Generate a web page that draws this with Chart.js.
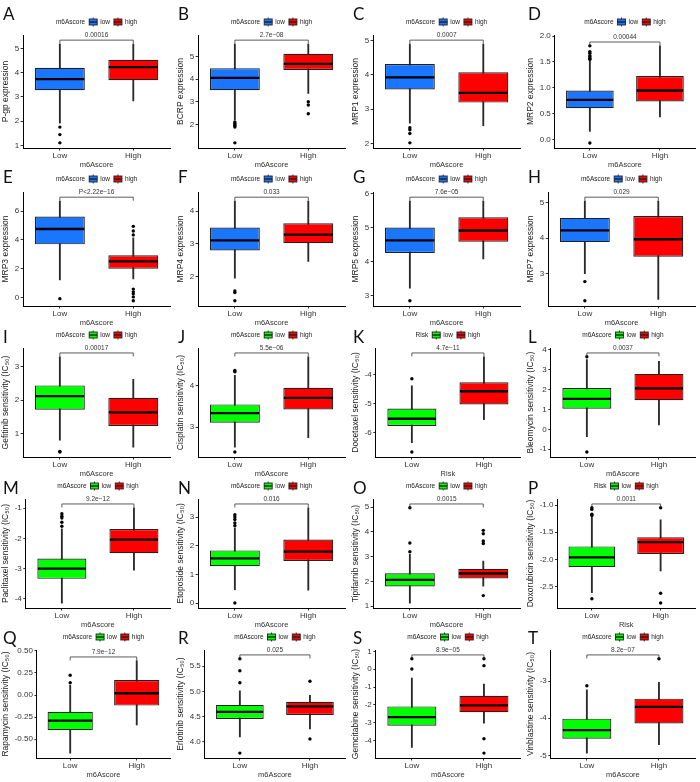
<!DOCTYPE html>
<html>
<head>
<meta charset="utf-8">
<script src="https://cdn.jsdelivr.net/npm/chart.js@4.4.0/dist/chart.umd.min.js"></script>
<style>
  body { margin: 0; background: #fff; }
  #fig { position: relative; width: 700px; height: 782px; overflow: hidden; background: #fff; }
  .panel { position: absolute; }
  .letter { position: absolute; font-family: Lato, "DejaVu Sans", sans-serif; font-size: 17px; line-height: 17px; color: #111; }
</style>
</head>
<body>
<div id="fig"></div>
<script>
// ---- data ----
const categories = ["Low", "High"];
const letters = ["A","B","C","D","E","F","G","H","I","J","K","L","M","N","O","P","Q","R","S","T"];
const yTitles = [
  "P-gp expression", "BCRP expression", "MRP1 expression", "MRP2 expression",
  "MRP3 expression", "MRP4 expression", "MRP5 expression", "MRP7 expression",
  "Gefitinib sensitivity (IC₅₀)", "Cisplatin sensitivity (IC₅₀)", "Docetaxel sensitivity (IC₅₀)", "Bleomycin sensitivity (IC₅₀)",
  "Paclitaxel sensitivity (IC₅₀)", "Etoposide sensitivity (IC₅₀)", "Tipifarnib sensitivity (IC₅₀)", "Doxorubicin sensitivity (IC₅₀)",
  "Rapamycin sensitivity (IC₅₀)", "Erlotinib sensitivity (IC₅₀)", "Gemcitabine sensitivity (IC₅₀)", "Vinblastine sensitivity (IC₅₀)"
];
const groupTitles = [
  "m6Ascore","m6Ascore","m6Ascore","m6Ascore",
  "m6Ascore","m6Ascore","m6Ascore","m6Ascore",
  "m6Ascore","m6Ascore","Risk","m6Ascore",
  "m6Ascore","m6Ascore","m6Ascore","Risk",
  "m6Ascore","m6Ascore","m6Ascore","m6Ascore"
];
const pLabels = [
  "0.00016","2.7e−08","0.0007","0.00044",
  "P<2.22e−16","0.033","7.6e−05","0.029",
  "0.00017","5.5e−06","4.7e−11","0.0037",
  "9.2e−12","0.016","0.0015","0.0011",
  "7.9e−12","0.025","8.9e−05","8.2e−07"
];
// [lower whisker, Q1, median, Q3, upper whisker]
const lowStats = [
  [1.92, 3.28, 3.74, 4.20, 5.18], [2.22, 3.52, 4.06, 4.49, 5.55], [2.59, 3.57, 3.92, 4.31, 4.89], [0.16, 0.61, 0.77, 0.95, 1.53],
  [1.24, 3.70, 4.76, 5.62, 6.68], [1.96, 2.80, 3.11, 3.50, 4.30], [3.22, 4.25, 4.62, 5.00, 5.77], [3.00, 3.89, 4.22, 4.57, 5.04],
  [0.80, 1.71, 2.12, 2.44, 3.30], [2.52, 3.11, 3.34, 3.55, 4.25], [-6.36, -5.78, -5.53, -5.18, -4.39], [-0.37, 1.03, 1.53, 2.07, 3.50],
  [-4.14, -3.34, -3.00, -2.67, -1.69], [0.47, 1.29, 1.56, 1.84, 2.62], [1.13, 1.80, 2.06, 2.33, 3.09], [-2.61, -2.14, -1.96, -1.76, -1.22],
  [-0.66, -0.40, -0.29, -0.19, 0.11], [4.09, 4.45, 4.59, 4.73, 5.01], [-4.37, -3.16, -2.68, -2.08, -0.49], [-4.94, -4.55, -4.32, -4.01, -3.23]
];
const highStats = [
  [2.84, 3.69, 4.23, 4.53, 5.18], [3.38, 4.41, 4.68, 5.12, 5.55], [2.52, 3.19, 3.47, 4.07, 4.89], [0.44, 0.74, 0.95, 1.23, 1.81],
  [1.31, 2.02, 2.53, 2.95, 4.15], [2.47, 3.02, 3.28, 3.63, 4.30], [4.08, 4.58, 4.91, 5.30, 5.77], [2.28, 3.48, 3.97, 4.62, 5.04],
  [0.59, 1.22, 1.63, 2.07, 2.62], [2.75, 3.43, 3.71, 3.95, 4.70], [-5.56, -5.04, -4.58, -4.27, -3.39], [0.22, 1.46, 2.05, 2.78, 3.41],
  [-3.05, -2.49, -2.04, -1.69, -0.99], [0.45, 1.47, 1.80, 2.22, 3.33], [1.81, 2.12, 2.32, 2.51, 2.82], [-2.21, -1.90, -1.68, -1.59, -1.27],
  [-0.34, -0.12, 0.02, 0.17, 0.39], [4.25, 4.53, 4.70, 4.79, 4.92], [-3.01, -2.41, -2.02, -1.48, -0.83], [-4.71, -4.14, -3.69, -3.47, -3.03]
];
const lowOutliers = [
  [1.76, 1.45, 1.11], [2.12, 2.05, 2.0, 1.95, 1.9, 1.2], [2.46, 2.40, 2.29, 2.02], [1.55, 1.57, 1.60, 1.62, 1.67, 1.70, 1.81, -0.06],
  [-0.05], [1.57, 1.52, 1.27], [2.85], [2.78, 2.24],
  [0.46, 0.44], [4.37, 4.34, 2.40], [-4.15, -6.68], [3.64, -1.14],
  [-1.60, -1.47, -1.33, -1.27, -1.19], [2.70, 2.80, 2.92, 3.01, 3.09, 0.0], [3.20, 3.55, 4.97], [-1.19, -1.17, -1.08, -1.05, -2.72],
  [0.14, 0.225], [5.17, 5.41, 5.65, 3.77], [0.01, 0.59], [-3.12]
];
const highOutliers = [
  [], [3.01, 2.87, 2.48], [], [],
  [4.35, 4.62, 4.94, 0.61, 0.42, 0.28, 0.07, -0.20], [], [], [],
  [], [], [], [],
  [], [], [3.53, 3.63, 3.92, 4.06, 1.43], [-1.05, -2.62, -2.80],
  [], [5.20, 4.05], [0.20, 0.59, -3.89, -4.69], [-2.39]
];
const yTickLabels = [
  ["1","2","3","4","5"], ["2","3","4","5"], ["2","3","4","5"], ["0.0","0.5","1.0","1.5","2.0"],
  ["0","2","4","6"], ["2","3","4"], ["3","4","5","6"], ["3","4","5"],
  ["1","2","3"], ["3","4"], ["-6","-5","-4"], ["-1","0","1","2","3","4"],
  ["-4","-3","-2","-1"], ["0","1","2","3"], ["1","2","3","4","5"], ["-2.5","-2.0","-1.5","-1.0"],
  ["-0.50","-0.25","0.00","0.25","0.50"], ["4.0","4.5","5.0","5.5"], ["-4","-3","-2","-1","0","1"], ["-5","-4","-3"]
];

// ---- layout ----
const PLOT_TOP = [35, 192, 348, 499, 650];
const PLOT_BOTTOM = [148, 306, 457, 608, 758];
const LETTER_Y = [13, 176, 336, 487, 637];
const COL_W = 175;
const TOP_PAD = 35;
const X_AXIS_H = 22;
const FONT = "'Liberation Sans', Arial, sans-serif";

const fig = document.getElementById("fig");

function fills(i) {
  return i < 8 ? ["#1a75ff", "#ff0000"] : ["#00ff00", "#ff0000"];
}

function yRange(i) {
  const all = lowStats[i].concat(highStats[i], lowOutliers[i], highOutliers[i]);
  const lo = Math.min(...all), hi = Math.max(...all);
  const br = hi + 0.04 * (hi - lo);
  const span = br - lo;
  const ticks = yTickLabels[i].map(Number);
  return {
    br: br,
    min: Math.min(lo - 0.05 * span, ticks[0] - 0.01 * span),
    max: Math.max(br + 0.05 * span, ticks[ticks.length - 1] + 0.01 * span)
  };
}

function drawKey(ctx, cx, cy, fill) {
  ctx.strokeStyle = "#222";
  ctx.lineWidth = 0.9;
  ctx.beginPath(); ctx.moveTo(cx, cy - 4.5); ctx.lineTo(cx, cy + 4.5); ctx.stroke();
  ctx.fillStyle = fill;
  ctx.fillRect(cx - 4, cy - 3, 8, 6);
  ctx.strokeRect(cx - 4, cy - 3, 8, 6);
  ctx.lineWidth = 1.4;
  ctx.beginPath(); ctx.moveTo(cx - 4, cy); ctx.lineTo(cx + 4, cy); ctx.stroke();
}

// medians, bracket + p value, legend
const boxExtras = {
  id: "boxExtras",
  afterDatasetsDraw(chart, args, opts) {
    const i = opts.idx;
    const ctx = chart.ctx;
    const y = chart.scales.y;
    const meta = chart.getDatasetMeta(1);
    ctx.save();
    ctx.strokeStyle = "#000";
    ctx.lineWidth = 2.3;
    [lowStats[i], highStats[i]].forEach((s, k) => {
      const bar = meta.data[k];
      const py = y.getPixelForValue(s[2]);
      ctx.beginPath();
      ctx.moveTo(bar.x - bar.width / 2 + 0.5, py);
      ctx.lineTo(bar.x + bar.width / 2 - 0.5, py);
      ctx.stroke();
    });
    ctx.restore();
  },
  afterDraw(chart, args, opts) {
    const i = opts.idx;
    const ctx = chart.ctx;
    const x = chart.scales.x, y = chart.scales.y;
    const area = chart.chartArea;
    const r = yRange(i);
    ctx.save();
    // bracket
    const x1 = x.getPixelForValue(0), x2 = x.getPixelForValue(1);
    const by = y.getPixelForValue(r.br);
    ctx.strokeStyle = "#333";
    ctx.lineWidth = 0.8;
    ctx.beginPath();
    ctx.moveTo(x1, by + 3.5); ctx.lineTo(x1, by); ctx.lineTo(x2, by); ctx.lineTo(x2, by + 3.5);
    ctx.stroke();
    ctx.fillStyle = "#333";
    ctx.font = "6.5px " + FONT;
    ctx.textAlign = "center";
    ctx.textBaseline = "bottom";
    ctx.fillText(pLabels[i], (x1 + x2) / 2, by - 1.5);

    // legend
    const [fLow, fHigh] = fills(i);
    ctx.font = "6.5px " + FONT;
    ctx.textBaseline = "middle";
    ctx.textAlign = "left";
    const wT = ctx.measureText(groupTitles[i]).width;
    const wL = ctx.measureText("low").width;
    const wH = ctx.measureText("high").width;
    const total = wT + 4 + 8 + 3 + wL + 4 + 8 + 3 + wH;
    let lx = (area.left + area.right) / 2 - total / 2;
    const ly = area.top - 13;
    ctx.fillStyle = "#222";
    ctx.fillText(groupTitles[i], lx, ly);
    lx += wT + 4;
    drawKey(ctx, lx + 4, ly, fLow);
    lx += 8 + 3;
    ctx.fillStyle = "#222";
    ctx.fillText("low", lx, ly);
    lx += wL + 4;
    drawKey(ctx, lx + 4, ly, fHigh);
    lx += 8 + 3;
    ctx.fillStyle = "#222";
    ctx.fillText("high", lx, ly);
    ctx.restore();
  }
};

letters.forEach((letter, i) => {
  const row = Math.floor(i / 4), col = i % 4;
  const top = PLOT_TOP[row] - TOP_PAD;
  const height = PLOT_BOTTOM[row] + X_AXIS_H - top;

  const div = document.createElement("div");
  div.className = "panel";
  div.style.left = col * COL_W + "px";
  div.style.top = top + "px";
  div.style.width = COL_W + "px";
  div.style.height = height + "px";
  const canvas = document.createElement("canvas");
  canvas.width = COL_W;
  canvas.height = height;
  div.appendChild(canvas);
  fig.appendChild(div);

  const lab = document.createElement("div");
  lab.className = "letter";
  lab.textContent = letter;
  lab.style.left = col * COL_W + 3 + "px";
  lab.style.top = LETTER_Y[row] - 8 + "px";
  fig.appendChild(lab);

  const r = yRange(i);
  const [fLow, fHigh] = fills(i);
  const lo = lowStats[i], hi = highStats[i];
  const points = lowOutliers[i].map((v) => ({ x: categories[0], y: v }))
    .concat(highOutliers[i].map((v) => ({ x: categories[1], y: v })));

  new Chart(canvas.getContext("2d"), {
    type: "bar",
    data: {
      labels: categories,
      datasets: [
        {
          type: "scatter",
          data: points,
          pointRadius: 1.7,
          pointBackgroundColor: "#000",
          pointBorderWidth: 0,
          order: 1
        },
        {
          type: "bar",
          data: [[lo[1], lo[3]], [hi[1], hi[3]]],
          backgroundColor: [fLow, fHigh],
          borderColor: "#222",
          borderWidth: 1.2,
          borderSkipped: false,
          grouped: false,
          barPercentage: 0.68,
          categoryPercentage: 1,
          order: 2
        },
        {
          type: "bar",
          data: [[lo[0], lo[4]], [hi[0], hi[4]]],
          backgroundColor: "#2a2a2a",
          barThickness: 1.2,
          grouped: false,
          order: 3
        }
      ]
    },
    options: {
      responsive: false,
      animation: false,
      devicePixelRatio: 1,
      events: [],
      layout: { padding: { top: TOP_PAD, left: 1, right: 5, bottom: 0 } },
      plugins: {
        legend: { display: false },
        tooltip: { enabled: false },
        boxExtras: { idx: i }
      },
      scales: {
        x: {
          type: "category",
          offset: true,
          afterFit: (ax) => { ax.height = X_AXIS_H; },
          grid: { offset: false, drawOnChartArea: false, tickLength: 2.5, color: "#333" },
          border: { color: "#000", width: 1 },
          ticks: { font: { size: 8, family: FONT }, color: "#333", padding: 0, maxRotation: 0 },
          title: {
            display: true,
            text: groupTitles[i],
            font: { size: 7.5, family: FONT },
            color: "#333",
            padding: { top: 0, bottom: 1 }
          }
        },
        y: {
          min: r.min,
          max: r.max,
          afterBuildTicks: (ax) => {
            ax.ticks = yTickLabels[i].map((t) => ({ value: Number(t) }));
          },
          grid: { drawOnChartArea: false, tickLength: 2.5, color: "#333" },
          border: { color: "#000", width: 1 },
          ticks: {
            callback: (v, k) => yTickLabels[i][k],
            font: { size: 8, family: FONT },
            color: "#333",
            padding: 1.5
          },
          title: {
            display: true,
            text: yTitles[i],
            font: { size: 8.5, family: FONT },
            color: "#222",
            padding: { top: 0, bottom: 2 }
          }
        }
      }
    },
    plugins: [boxExtras]
  });
});
</script>
</body>
</html>
